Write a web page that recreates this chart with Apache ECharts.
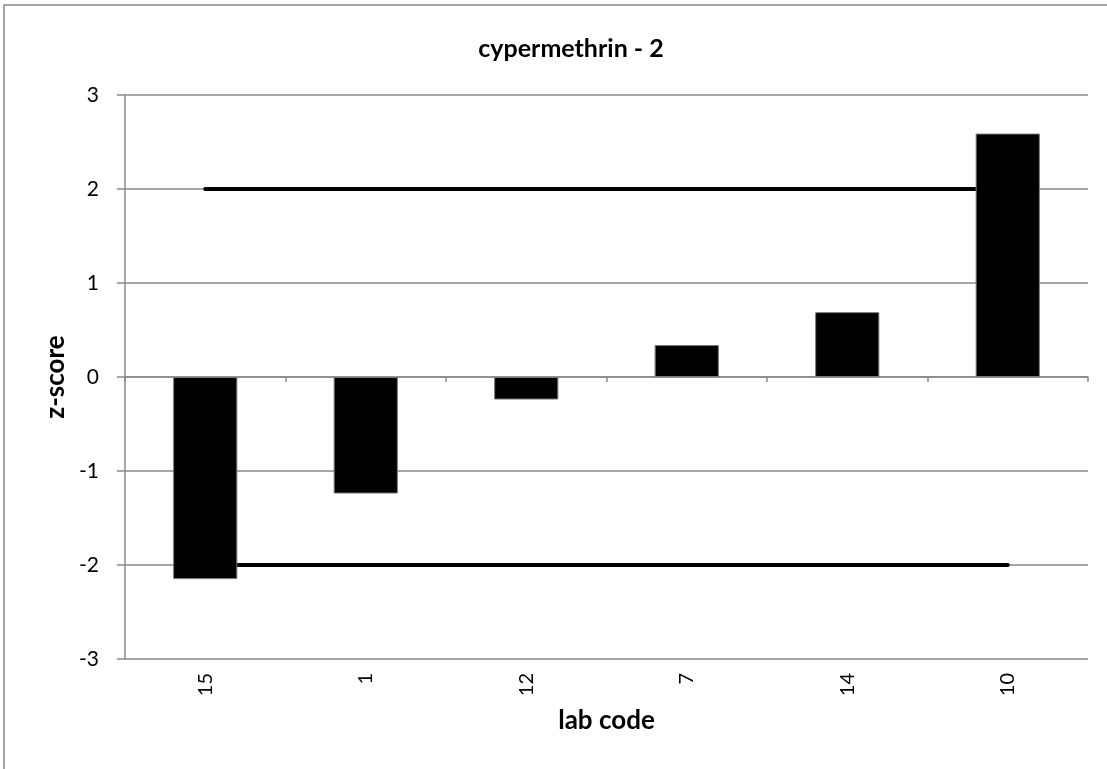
<!DOCTYPE html>
<html>
<head>
<meta charset="utf-8">
<script src="https://cdn.jsdelivr.net/npm/echarts@6/dist/echarts.min.js"></script>
<style>html,body{margin:0;padding:0;background:#fff}#c{width:1107px;height:769px}</style>
</head>
<body>
<div id="c"></div>
<script>
const categories = ['15', '1', '12', '7', '14', '10'];
const zScores = [-2.15, -1.24, -0.24, 0.34, 0.69, 2.59];
const upperLimit = [2, 2, 2, 2, 2, 2];
const lowerLimit = [-2, -2, -2, -2, -2, -2];
const yTicks = [-3, -2, -1, 0, 1, 2, 3];

const FONT = 'Lato, "Open Sans", sans-serif';
const GRAY = '#8a8a8a';
const chart = echarts.init(document.getElementById('c'), null, {renderer: 'canvas'});
chart.setOption({
  animation: false,
  backgroundColor: '#fff',
  title: {
    text: 'cypermethrin - 2',
    left: 566, top: 31, textAlign: 'center',
    textStyle: {fontFamily: FONT, fontWeight: 'bold', fontSize: 25, color: '#000'}
  },
  graphic: [{
    type: 'rect', shape: {x: 4, y: 5, width: 1300, height: 1000},
    style: {fill: 'none', stroke: GRAY, lineWidth: 1.5}, silent: true, z: -1
  }],
  grid: {left: 125, right: 19, top: 95, bottom: 110},
  xAxis: [{
    type: 'category', data: categories, position: 'bottom',
    name: 'lab code', nameLocation: 'middle', nameGap: 49,
    nameTextStyle: {fontFamily: FONT, fontWeight: 'bold', fontSize: 26, color: '#000'},
    axisLine: {show: false, onZero: false},
    axisTick: {show: false},
    axisLabel: {rotate: 90, margin: 14, fontFamily: FONT, fontSize: 20, color: '#000'},
    splitLine: {show: false}
  }, {
    type: 'category', data: categories, position: 'top',
    axisLine: {show: true, onZero: true, lineStyle: {color: GRAY, width: 1.5}},
    axisTick: {show: true, inside: true, length: 5, lineStyle: {color: GRAY, width: 1.5}},
    axisLabel: {show: false},
    splitLine: {show: false}
  }],
  yAxis: {
    type: 'value', min: yTicks[0], max: yTicks[yTicks.length - 1], interval: 1,
    name: 'z-score', nameLocation: 'middle', nameGap: 55, nameRotate: 90,
    nameTextStyle: {fontFamily: FONT, fontWeight: 'bold', fontSize: 26, color: '#000'},
    axisLine: {show: true, lineStyle: {color: GRAY, width: 1.5}},
    axisTick: {show: true, length: 8, lineStyle: {color: GRAY, width: 1.5}},
    axisLabel: {margin: 26, fontFamily: FONT, fontSize: 21, color: '#000'},
    splitLine: {show: true, lineStyle: {color: GRAY, width: 1.5}}
  },
  series: [{
    type: 'line', data: upperLimit, xAxisIndex: 0, symbol: 'none', z: 2,
    lineStyle: {color: '#000', width: 4, cap: 'round'}
  }, {
    type: 'line', data: lowerLimit, xAxisIndex: 0, symbol: 'none', z: 2,
    lineStyle: {color: '#000', width: 4, cap: 'round'}
  }, {
    type: 'bar', data: zScores, xAxisIndex: 0, barWidth: '40%', z: 3,
    itemStyle: {color: '#000', borderColor: '#7a7a7a', borderWidth: 1}
  }]
});
</script>
</body>
</html>
